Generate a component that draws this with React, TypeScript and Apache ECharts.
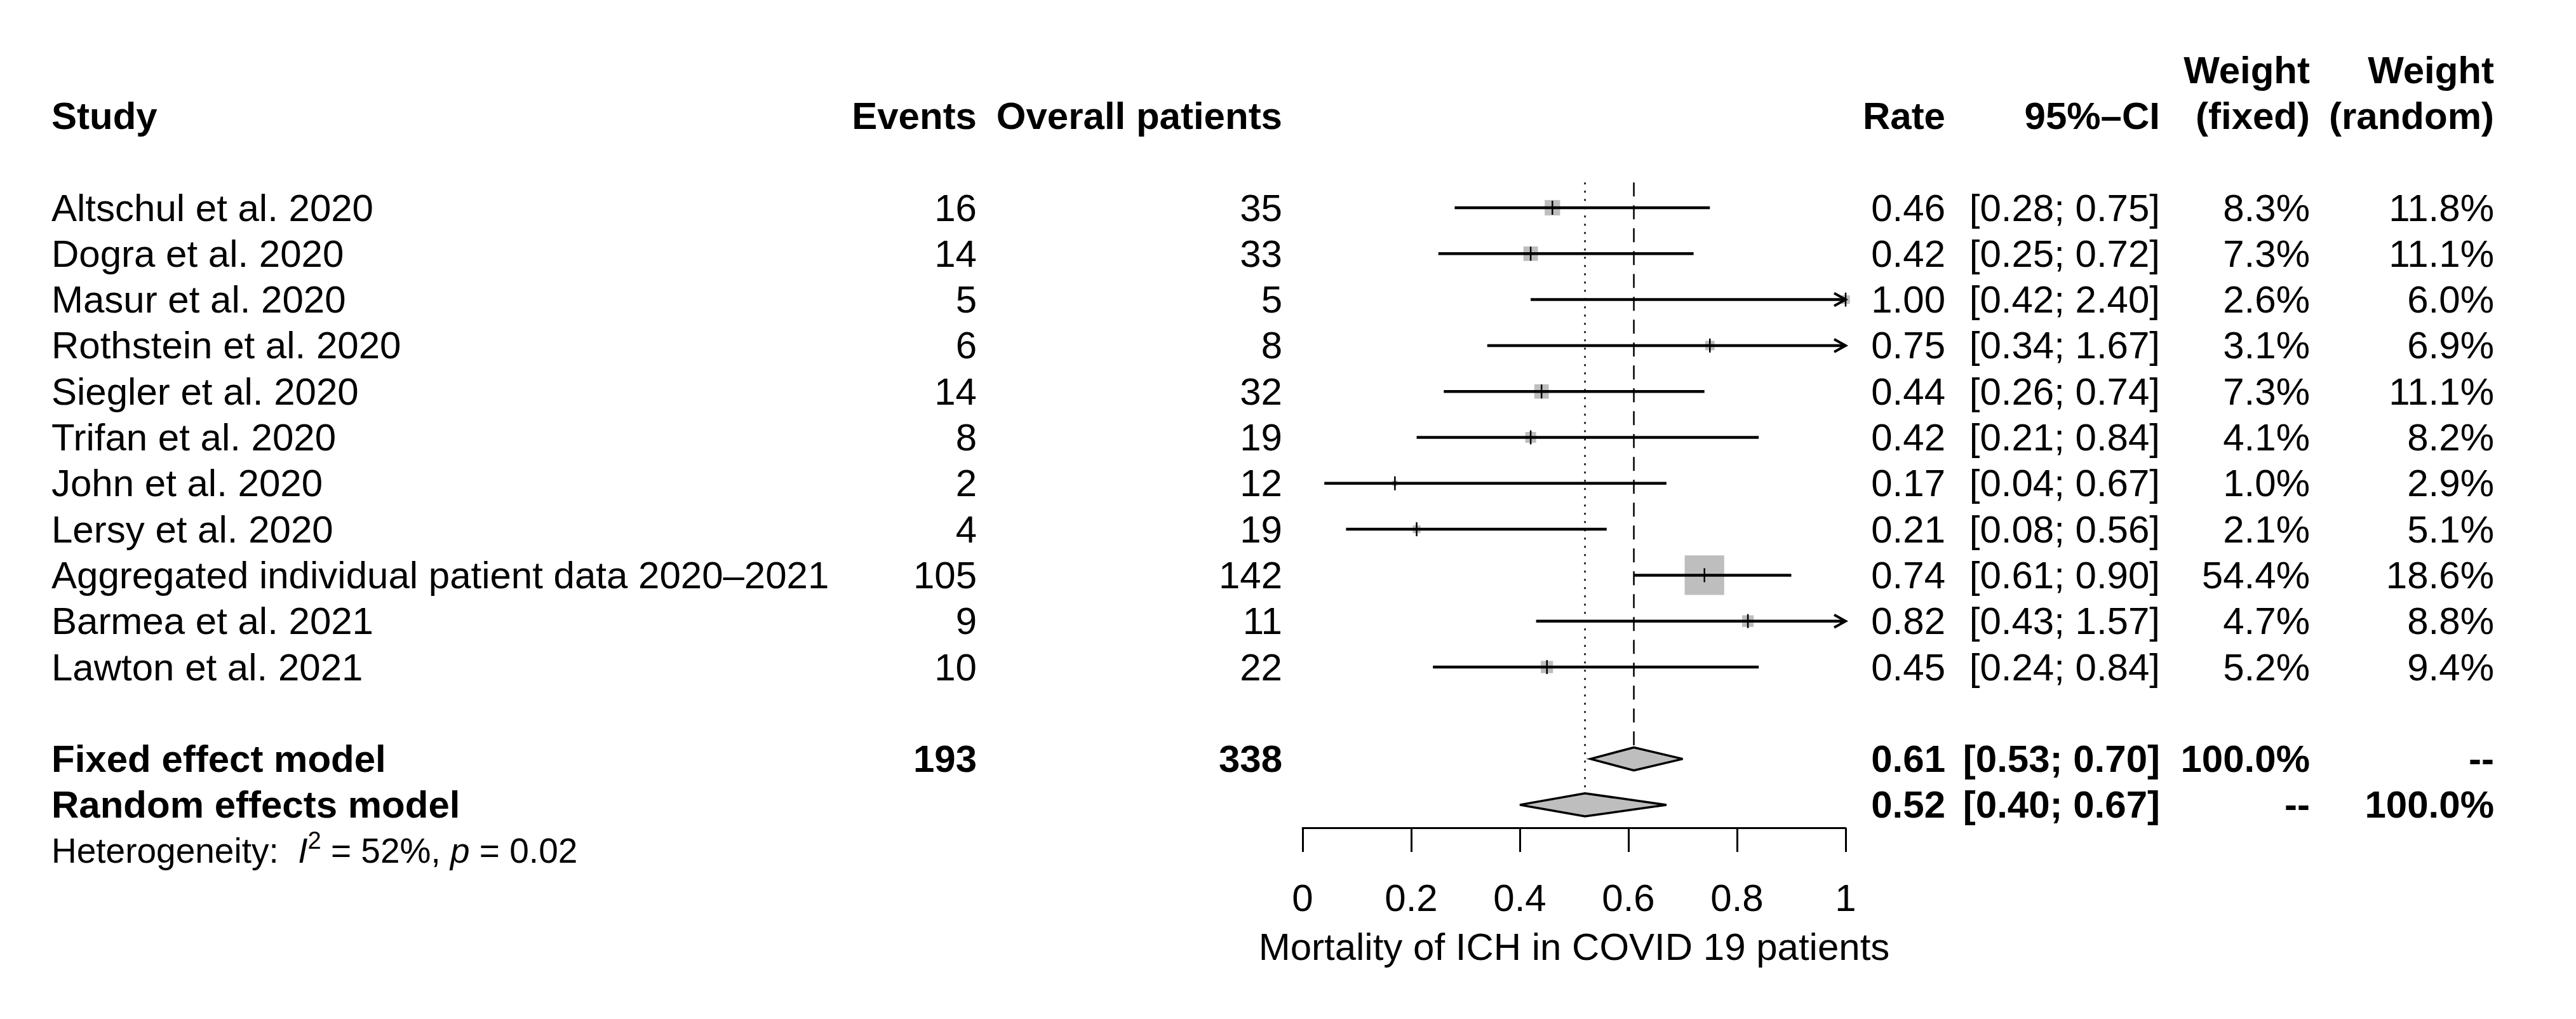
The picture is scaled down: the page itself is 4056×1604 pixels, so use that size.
import React, { useEffect, useRef } from "react";
import * as echarts from "echarts";

// ---------- data ----------
const studies = [
  "Altschul et al. 2020",
  "Dogra et al. 2020",
  "Masur et al. 2020",
  "Rothstein et al. 2020",
  "Siegler et al. 2020",
  "Trifan et al. 2020",
  "John et al. 2020",
  "Lersy et al. 2020",
  "Aggregated individual patient data 2020–2021",
  "Barmea et al. 2021",
  "Lawton et al. 2021",
];
const events = [16, 14, 5, 6, 14, 8, 2, 4, 105, 9, 10];
const patients = [35, 33, 5, 8, 32, 19, 12, 19, 142, 11, 22];
const rates = [0.46, 0.42, 1.0, 0.75, 0.44, 0.42, 0.17, 0.21, 0.74, 0.82, 0.45];
const lower = [0.28, 0.25, 0.42, 0.34, 0.26, 0.21, 0.04, 0.08, 0.61, 0.43, 0.24];
const upper = [0.75, 0.72, 2.4, 1.67, 0.74, 0.84, 0.67, 0.56, 0.9, 1.57, 0.84];
const weightFixed = [8.3, 7.3, 2.6, 3.1, 7.3, 4.1, 1.0, 2.1, 54.4, 4.7, 5.2];
const weightRandom = [11.8, 11.1, 6.0, 6.9, 11.1, 8.2, 2.9, 5.1, 18.6, 8.8, 9.4];

const summaryLabels = ["Fixed effect model", "Random effects model"];
const summaryEvents = ["193", ""];
const summaryPatients = ["338", ""];
const summaryRate = [0.61, 0.52];
const summaryLower = [0.53, 0.4];
const summaryUpper = [0.7, 0.67];
const summaryWeightFixed = ["100.0%", "--"];
const summaryWeightRandom = ["--", "100.0%"];

const headerLine1 = ["", "", "", "", "", "Weight", "Weight"];
const headerLine2 = ["Study", "Events", "Overall patients", "Rate", "95%–CI", "(fixed)", "(random)"];

const heterogeneityI2 = "52%";
const heterogeneityP = "0.02";

const xTicks = { min: 0, max: 1, interval: 0.2 };
const axisTitle = "Mortality of ICH in COVID 19 patients";

// ---------- layout ----------
const W = 4056;
const H = 1604;
const FONT = '"Liberation Sans", Arial, Helvetica, sans-serif';
const FS = 60;
const FS_HET = 55;
const ROW0 = 327;
const ROWH = 72.3;
const YMIN = -4;
const YMAX = 13.5;
const PLOT_L = 2051;
const PLOT_R = 2906;
const COLX = [81, 1538, 2019, 3063, 3401, 3637, 3927];
const COLALIGN = ["left", "right", "right", "right", "right", "right", "right"];
const FIXED_ROW = studies.length + 1;
const RANDOM_ROW = studies.length + 2;
const HET_ROW = studies.length + 3;
const GRAY = "#bebebe";

type Cell = { row: number; col: number; text: string; bold?: boolean; rich?: boolean };

function buildCells(): Cell[] {
  const cells: Cell[] = [];
  headerLine1.forEach((t, c) => t && cells.push({ row: -3, col: c, text: t, bold: true }));
  headerLine2.forEach((t, c) => cells.push({ row: -2, col: c, text: t, bold: true }));
  studies.forEach((s, i) => {
    cells.push({ row: i, col: 0, text: s });
    cells.push({ row: i, col: 1, text: String(events[i]) });
    cells.push({ row: i, col: 2, text: String(patients[i]) });
    cells.push({ row: i, col: 3, text: rates[i].toFixed(2) });
    cells.push({ row: i, col: 4, text: `[${lower[i].toFixed(2)}; ${upper[i].toFixed(2)}]` });
    cells.push({ row: i, col: 5, text: `${weightFixed[i].toFixed(1)}%` });
    cells.push({ row: i, col: 6, text: `${weightRandom[i].toFixed(1)}%` });
  });
  summaryLabels.forEach((s, k) => {
    const row = k === 0 ? FIXED_ROW : RANDOM_ROW;
    cells.push({ row, col: 0, text: s, bold: true });
    if (summaryEvents[k]) cells.push({ row, col: 1, text: summaryEvents[k], bold: true });
    if (summaryPatients[k]) cells.push({ row, col: 2, text: summaryPatients[k], bold: true });
    cells.push({ row, col: 3, text: summaryRate[k].toFixed(2), bold: true });
    cells.push({
      row,
      col: 4,
      text: `[${summaryLower[k].toFixed(2)}; ${summaryUpper[k].toFixed(2)}]`,
      bold: true,
    });
    cells.push({ row, col: 5, text: summaryWeightFixed[k], bold: true });
    cells.push({ row, col: 6, text: summaryWeightRandom[k], bold: true });
  });
  cells.push({
    row: HET_ROW,
    col: 0,
    text: `{n|Heterogeneity:  }{i|I}{s|2}{n| = ${heterogeneityI2}, }{i|p}{n| = ${heterogeneityP}}`,
    rich: true,
  });
  return cells;
}

export default function App() {
  const ref = useRef<HTMLDivElement>(null);

  useEffect(() => {
    document.body.style.margin = "0";
    const chart = echarts.init(ref.current!, null, { renderer: "svg" });
    const cells = buildCells();
    const maxW = Math.max(...weightFixed);
    const gridTop = ROW0 + YMIN * ROWH;
    const gridBottomPx = ROW0 + YMAX * ROWH;

    const option: any = {
      animation: false,
      backgroundColor: "#ffffff",
      textStyle: { fontFamily: FONT },
      grid: {
        left: PLOT_L,
        right: W - PLOT_R,
        top: gridTop,
        bottom: H - gridBottomPx,
      },
      xAxis: {
        type: "value",
        min: xTicks.min,
        max: xTicks.max,
        interval: xTicks.interval,
        position: "bottom",
        splitLine: { show: false },
        axisLine: { show: true, onZero: false, lineStyle: { color: "#000", width: 3 } },
        axisTick: { show: true, inside: false, length: 38, lineStyle: { color: "#000", width: 3 } },
        axisLabel: { fontSize: FS, color: "#000", margin: 80, fontFamily: FONT },
        name: axisTitle,
        nameLocation: "middle",
        nameGap: 157,
        nameTextStyle: { fontSize: FS, color: "#000", fontFamily: FONT },
      },
      yAxis: {
        type: "value",
        inverse: true,
        min: YMIN,
        max: YMAX,
        show: false,
        splitLine: { show: false },
      },
      series: [
        // reference lines (fixed = dashed, random = dotted)
        {
          type: "custom",
          clip: false,
          silent: true,
          data: [
            [summaryRate[0], FIXED_ROW, 0],
            [summaryRate[1], RANDOM_ROW, 1],
          ],
          renderItem: (params: any, api: any) => {
            const x = api.value(0);
            const row = api.value(1);
            const dotted = api.value(2) === 1;
            const top = api.coord([x, -0.55]);
            const bot = api.coord([x, row]);
            const h = api.size([0, 0.25])[1];
            return {
              type: "line",
              shape: { x1: top[0], y1: top[1], x2: bot[0], y2: bot[1] - h },
              style: {
                stroke: "#000",
                lineWidth: 2.5,
                lineDash: dotted ? [3, 10] : [22, 14],
              },
            };
          },
        },
        // study CIs and squares
        {
          type: "custom",
          clip: false,
          silent: true,
          data: studies.map((_, i) => [i, lower[i], upper[i], rates[i], weightFixed[i]]),
          renderItem: (params: any, api: any) => {
            const row = api.value(0);
            const lo = api.value(1);
            const up = api.value(2);
            const est = api.value(3);
            const w = api.value(4);
            const pl = api.coord([Math.max(lo, xTicks.min), row]);
            const pr = api.coord([Math.min(up, xTicks.max), row]);
            const pe = api.coord([est, row]);
            const unit = api.size([0, 1])[1];
            const side = 0.86 * unit * Math.sqrt(w / maxW);
            const children: any[] = [
              {
                type: "rect",
                shape: { x: pe[0] - side / 2, y: pe[1] - side / 2, width: side, height: side },
                style: { fill: GRAY },
              },
              {
                type: "line",
                shape: { x1: pl[0], y1: pl[1], x2: pr[0], y2: pr[1] },
                style: { stroke: "#000", lineWidth: 4.5 },
              },
              {
                type: "line",
                shape: { x1: pe[0], y1: pe[1] - 11, x2: pe[0], y2: pe[1] + 11 },
                style: { stroke: "#000", lineWidth: 2.5 },
              },
            ];
            if (up > xTicks.max) {
              children.push({
                type: "polyline",
                shape: {
                  points: [
                    [pr[0] - 18, pr[1] - 10],
                    [pr[0], pr[1]],
                    [pr[0] - 18, pr[1] + 10],
                  ],
                },
                style: { stroke: "#000", lineWidth: 4, fill: null },
              });
            }
            return { type: "group", children };
          },
        },
        // summary diamonds
        {
          type: "custom",
          clip: false,
          silent: true,
          data: [
            [FIXED_ROW, summaryLower[0], summaryUpper[0], summaryRate[0]],
            [RANDOM_ROW, summaryLower[1], summaryUpper[1], summaryRate[1]],
          ],
          renderItem: (params: any, api: any) => {
            const row = api.value(0);
            const pl = api.coord([api.value(1), row]);
            const pr = api.coord([api.value(2), row]);
            const pe = api.coord([api.value(3), row]);
            const h = api.size([0, 0.25])[1];
            return {
              type: "polygon",
              shape: {
                points: [
                  [pl[0], pl[1]],
                  [pe[0], pe[1] - h],
                  [pr[0], pr[1]],
                  [pe[0], pe[1] + h],
                ],
              },
              style: { fill: GRAY, stroke: "#000", lineWidth: 3.5 },
            };
          },
        },
        // table texts
        {
          type: "custom",
          clip: false,
          silent: true,
          data: cells.map((c) => [0, c.row]),
          renderItem: (params: any, api: any) => {
            const c = cells[params.dataIndex];
            const y = api.coord([0, api.value(1)])[1];
            if (c.rich) {
              return {
                type: "text",
                x: COLX[c.col],
                y,
                style: {
                  text: c.text,
                  align: "left",
                  verticalAlign: "middle",
                  fill: "#000",
                  fontFamily: FONT,
                  fontSize: FS_HET,
                  rich: {
                    n: { fontSize: FS_HET, fontFamily: FONT, fill: "#000", lineHeight: 70 },
                    i: {
                      fontSize: FS_HET,
                      fontFamily: FONT,
                      fill: "#000",
                      fontStyle: "italic",
                      lineHeight: 70,
                    },
                    s: { fontSize: 38, fontFamily: FONT, fill: "#000", verticalAlign: "top", lineHeight: 38 },
                  },
                },
              };
            }
            return {
              type: "text",
              x: COLX[c.col],
              y,
              style: {
                text: c.text,
                align: COLALIGN[c.col],
                verticalAlign: "middle",
                fill: "#000",
                fontFamily: FONT,
                fontSize: FS,
                fontWeight: c.bold ? "bold" : "normal",
              },
            };
          },
        },
      ],
    };

    chart.setOption(option);
    return () => chart.dispose();
  }, []);

  return <div ref={ref} style={{ width: W, height: H, background: "#fff" }} />;
}
